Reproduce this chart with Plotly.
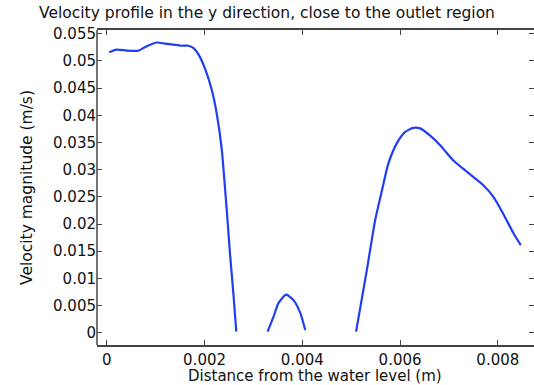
import plotly.graph_objects as go

# Segment 1 (near water level)
dist_seg1 = [0.00005, 0.00020, 0.00041, 0.00065, 0.00075, 0.00089, 0.00102, 0.00119,
             0.00136, 0.00153, 0.00167, 0.00177, 0.00187, 0.00201, 0.00215, 0.00225,
             0.00235, 0.00246, 0.00252, 0.00259, 0.00265]
vel_seg1 = [0.0516, 0.0521, 0.0519, 0.0519, 0.0524, 0.0530, 0.0534, 0.0532,
            0.0530, 0.0528, 0.0528, 0.0524, 0.0513, 0.0486, 0.0446, 0.0403,
            0.0339, 0.0219, 0.0146, 0.0072, 0.0002]

# Segment 2 (small bump)
dist_seg2 = [0.00329, 0.00341, 0.00351, 0.00367, 0.00382, 0.00396, 0.00406]
vel_seg2 = [0.0002, 0.0029, 0.0054, 0.0070, 0.0060, 0.0036, 0.0005]

# Segment 3 (outlet jet)
dist_seg3 = [0.00510, 0.00532, 0.00549, 0.00563, 0.00576, 0.00593, 0.00610, 0.00627,
             0.00641, 0.00661, 0.00682, 0.00709, 0.00737, 0.00771, 0.00791, 0.00811,
             0.00832, 0.00847]
vel_seg3 = [0.0002, 0.0115, 0.0207, 0.0262, 0.0311, 0.0348, 0.0369, 0.0377,
            0.0376, 0.0363, 0.0345, 0.0317, 0.0296, 0.0271, 0.0250, 0.0219,
            0.0183, 0.0161]

x_ticks = [0, 0.002, 0.004, 0.006, 0.008]
x_ticklabels = ["0", "0.002", "0.004", "0.006", "0.008"]
y_ticks = [0, 0.005, 0.01, 0.015, 0.02, 0.025, 0.03, 0.035, 0.04, 0.045, 0.05, 0.055]
y_ticklabels = ["0", "0.005", "0.01", "0.015", "0.02", "0.025", "0.03", "0.035",
                "0.04", "0.045", "0.05", "0.055"]

axis_col = "#444444"
FS = 15
font = dict(family="DejaVu Sans", size=FS, color="#111111")
line_style = dict(color="#1f3ff0", width=2.2, shape="spline", smoothing=0.6)

fig = go.Figure()
for xs, ys in [(dist_seg1, vel_seg1), (dist_seg2, vel_seg2), (dist_seg3, vel_seg3)]:
    fig.add_trace(go.Scatter(x=xs, y=ys, mode="lines", line=line_style, showlegend=False))

fig.update_layout(
    width=534, height=385,
    margin=dict(l=97, r=0, t=30, b=40),
    paper_bgcolor="white", plot_bgcolor="white",
    font=font,
    title=dict(text="Velocity profile in the y direction, close to the outlet region",
               x=0.5, xanchor="center", y=1 - 13 / 385, yanchor="middle",
               font=dict(family="DejaVu Sans", size=15.5, color="#111111")),
    xaxis=dict(range=[-0.0002, 0.00874], tickvals=x_ticks, ticktext=x_ticklabels,
               ticks="inside", ticklen=5, tickcolor=axis_col, tickwidth=1,
               showline=True, linecolor=axis_col, linewidth=1.5, mirror="ticks",
               showgrid=False, zeroline=False),
    yaxis=dict(range=[-0.00226, 0.0557], tickvals=y_ticks, ticktext=y_ticklabels,
               ticks="inside", ticklen=5, tickcolor=axis_col, tickwidth=1,
               showline=False, mirror="ticks",
               showgrid=False, zeroline=False,
               title=dict(text="Velocity magnitude (m/s)", standoff=16,
                          font=dict(size=15.5))),
    shapes=[dict(type="line", xref="paper", yref="paper", x0=0, x1=0, y0=0, y1=1,
                 line=dict(color=axis_col, width=1.5))],
    annotations=[dict(text="Distance from the water level (m)", xref="paper", yref="paper",
                      x=(315 - 97) / 437, y=-(375.5 - 345) / 315, xanchor="center",
                      yanchor="middle", showarrow=False,
                      font=dict(family="DejaVu Sans", size=15, color="#111111"))],
)

fig.write_html("out.html")
